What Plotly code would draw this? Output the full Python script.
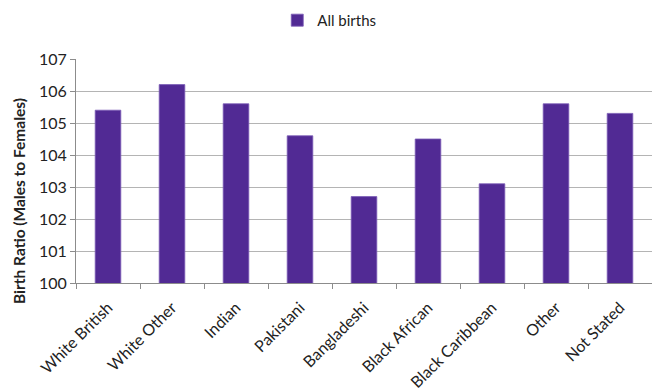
import plotly.graph_objects as go

categories = ["White British", "White Other", "Indian", "Pakistani", "Bangladeshi",
              "Black African", "Black Caribbean", "Other", "Not Stated"]
birth_ratio = [105.4, 106.2, 105.6, 104.6, 102.7, 104.5, 103.1, 105.6, 105.3]
y_ticks = [100, 101, 102, 103, 104, 105, 106, 107]

FONT = "Lato"
fig = go.Figure()
fig.add_trace(go.Bar(
    x=categories, y=birth_ratio, name="All births",
    marker=dict(color="#512A94", line=dict(color="#7a5bb5", width=0.8)),
    width=0.4,
))

fig.update_layout(
    width=652, height=392,
    margin=dict(l=76, r=0, t=59, b=109),
    plot_bgcolor="white", paper_bgcolor="white",
    font=dict(family=FONT, size=15, color="#222"),
    showlegend=True,
    legend=dict(orientation="h", xref="container", x=0.505, xanchor="center",
                yref="container", y=0.99, yanchor="top", itemwidth=30,
                font=dict(size=15, color="#222")),
    xaxis=dict(
        type="category", tickangle=-45, showline=True, linecolor="#8c8c8c",
        linewidth=1, ticks="outside", tickson="boundaries", ticklen=5,
        tickcolor="#8c8c8c", showgrid=False, ticklabelstandoff=8,
        tickfont=dict(size=16, color="#222"),
    ),
    yaxis=dict(
        range=[100, 107], tickvals=y_ticks, showline=True, linecolor="#8c8c8c",
        linewidth=1, ticks="outside", ticklen=5, tickcolor="#8c8c8c",
        showgrid=True, gridcolor="#b4b4b4", gridwidth=1,
        tickfont=dict(size=16, color="#222"), zeroline=False,
    ),
    annotations=[dict(
        text="<b>Birth Ratio (Males to Females)</b>", textangle=-90,
        xref="paper", yref="paper", x=-(76 - 19) / 576, y=(283 - 201) / 224,
        xanchor="center", yanchor="middle", showarrow=False,
        font=dict(size=15.5, color="#222"),
    )],
)

fig.write_html("out.html")
